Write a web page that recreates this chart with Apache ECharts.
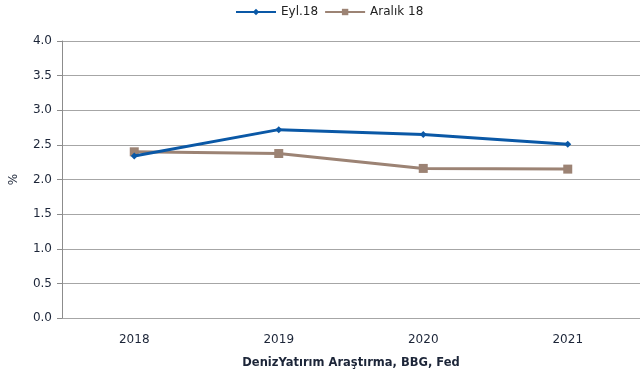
<!DOCTYPE html>
<html><head><meta charset="utf-8">
<script src="https://cdn.jsdelivr.net/npm/echarts@6/dist/echarts.min.js"></script>
<style>html,body{margin:0;padding:0;background:#fff}#c{width:640px;height:380px}</style>
</head><body><div id="c"></div>
<script>
var categories = ['2018', '2019', '2020', '2021'];
var eyl18 = [2.34, 2.72, 2.65, 2.51];
var aralik18 = [2.40, 2.375, 2.16, 2.15];
var seriesNames = ['Eyl.18', 'Aralık 18'];
var yTicks = [0, 0.5, 1, 1.5, 2, 2.5, 3, 3.5, 4];

var chart = echarts.init(document.getElementById('c'));
var font = 'DejaVu Sans';
var txt = '#1c2538';
chart.setOption({
  animation: false,
  textStyle: {fontFamily: font},
  legend: {
    top: 1, left: 230, itemGap: 6, itemWidth: 40, itemHeight: 8,
    textStyle: {fontFamily: font, fontSize: 12, color: '#222'},
    data: seriesNames
  },
  grid: {left: 62, right: 0, top: 41, bottom: 62, containLabel: false, outerBoundsMode: 'none'},
  xAxis: {
    type: 'category', data: categories,
    axisLine: {show: false}, axisTick: {show: false},
    axisLabel: {fontFamily: font, fontSize: 12, color: txt, margin: 16},
    name: 'DenizYatırım Araştırma, BBG, Fed', nameLocation: 'middle', nameGap: 39,
    nameTextStyle: {fontFamily: font, fontSize: 11.5, fontWeight: 'bold', color: txt}
  },
  yAxis: {
    type: 'value', min: 0, max: 4, interval: 0.5,
    axisLine: {show: true, lineStyle: {color: '#8c8c8c'}},
    axisTick: {show: true, length: 5, lineStyle: {color: '#8c8c8c'}},
    splitLine: {lineStyle: {color: '#a6a6a6'}},
    axisLabel: {fontFamily: font, fontSize: 12, color: txt, margin: 10,
      formatter: function(v){ return v.toFixed(1); }},
    name: '%', nameLocation: 'middle', nameGap: 42,
    nameTextStyle: {fontFamily: font, fontSize: 12, color: txt}
  },
  series: [
    {name: seriesNames[0], type: 'line', data: eyl18, symbol: 'diamond', symbolSize: 7,
     lineStyle: {color: '#0a58a6', width: 3}, itemStyle: {color: '#0a58a6'}, z: 3},
    {name: seriesNames[1], type: 'line', data: aralik18, symbol: 'rect', symbolSize: 9,
     lineStyle: {color: '#9c8374', width: 3}, itemStyle: {color: '#9c8374'}, z: 2}
  ]
});
</script></body></html>
